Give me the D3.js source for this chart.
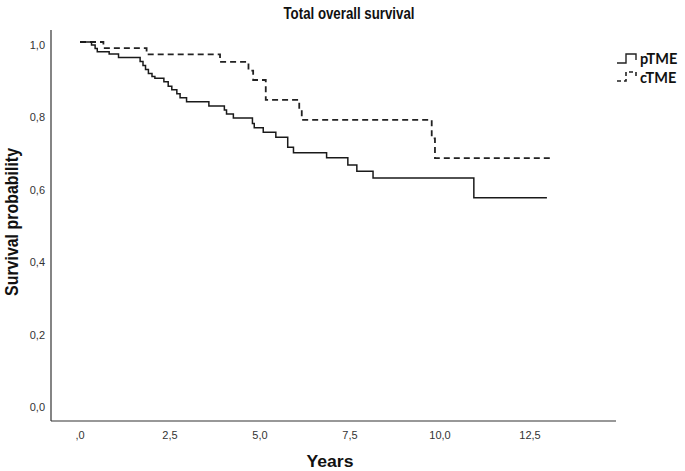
<!DOCTYPE html>
<html>
<head>
<meta charset="utf-8">
<script src="https://cdn.jsdelivr.net/npm/d3@7"></script>
<style>
  body { margin: 0; background: #fff; }
  svg { display: block; }
  .tick-label { font-family: "Liberation Sans Narrow", "Liberation Sans", Arial, sans-serif; font-size: 11px; fill: #333; }
  .bold { font-family: "Liberation Sans Narrow", "Liberation Sans", Arial, sans-serif; font-weight: bold; fill: #111; }
  .legend { font-family: Lato, "Open Sans", sans-serif; font-weight: bold; font-size: 14.5px; fill: #111; }
</style>
</head>
<body>
<script>
// ---- Data ----
const title = "Total overall survival";
const xLabel = "Years";
const yLabel = "Survival probability";
const seriesNames = ["pTME", "cTME"];

const pTimes = [0, 0.32, 0.42, 0.48, 0.81, 1.07, 1.67, 1.75, 1.82, 1.9, 2.0, 2.08, 2.33, 2.45, 2.55, 2.69, 2.78, 2.96, 3.58, 4.01, 4.07, 4.26, 4.79, 4.84, 5.09, 5.44, 5.77, 5.93, 6.85, 7.44, 7.69, 8.14, 10.94, 12.97];
const pSurv  = [1.0, 0.992, 0.982, 0.973, 0.967, 0.957, 0.946, 0.935, 0.924, 0.913, 0.905, 0.90, 0.89, 0.878, 0.868, 0.857, 0.846, 0.835, 0.823, 0.812, 0.801, 0.79, 0.775, 0.763, 0.751, 0.737, 0.709, 0.694, 0.680, 0.660, 0.643, 0.624, 0.570, 0.570];

const cTimes = [0, 0.65, 1.85, 3.89, 4.68, 4.81, 5.16, 6.09, 6.16, 9.77, 9.86, 13.06];
const cSurv  = [1.0, 0.983, 0.966, 0.945, 0.921, 0.895, 0.840, 0.812, 0.785, 0.734, 0.679, 0.679];

const xTicks = [0, 2.5, 5, 7.5, 10, 12.5];
const xTickLabels = [",0", "2,5", "5,0", "7,5", "10,0", "12,5"];
const yTicks = [0, 0.2, 0.4, 0.6, 0.8, 1.0];
const yTickLabels = ["0,0", "0,2", "0,4", "0,6", "0,8", "1,0"];

// ---- Layout ----
const W = 685, H = 471;
const svg = d3.select("body").append("svg").attr("width", W).attr("height", H);

const x = d3.scaleLinear().domain([0, 12.5]).range([80, 530]);
const y = d3.scaleLinear().domain([0, 1]).range([404, 42]);

const axisLeft = 51, axisRight = 616, axisTop = 30, axisBottom = 421;

// axes lines
svg.append("line").attr("x1", axisLeft).attr("x2", axisLeft).attr("y1", axisTop).attr("y2", axisBottom)
  .attr("stroke", "#333").attr("stroke-width", 1.2);
svg.append("line").attr("x1", axisLeft).attr("x2", axisRight).attr("y1", axisBottom).attr("y2", axisBottom)
  .attr("stroke", "#333").attr("stroke-width", 1.2);

// tick labels
svg.selectAll(".ylab").data(yTicks).enter().append("text")
  .attr("class", "tick-label").attr("x", 45).attr("y", d => y(d) + 3)
  .attr("text-anchor", "end").attr("dominant-baseline", "central")
  .text((d, i) => yTickLabels[i]);

svg.selectAll(".xlab").data(xTicks).enter().append("text")
  .attr("class", "tick-label").attr("x", d => x(d)).attr("y", 435)
  .attr("text-anchor", "middle").attr("dominant-baseline", "central")
  .text((d, i) => xTickLabels[i]);

// titles
svg.append("text").attr("class", "bold").attr("x", 349).attr("y", 13)
  .attr("text-anchor", "middle").attr("dominant-baseline", "central")
  .attr("textLength", 131).attr("lengthAdjust", "spacingAndGlyphs")
  .style("font-size", "16px").text(title);
svg.append("text").attr("class", "bold").attr("x", 330).attr("y", 461)
  .attr("text-anchor", "middle").attr("dominant-baseline", "central")
  .attr("textLength", 47).attr("lengthAdjust", "spacingAndGlyphs")
  .style("font-size", "16.5px").text(xLabel);
svg.append("text").attr("class", "bold")
  .attr("transform", "translate(12,222) rotate(-90)")
  .attr("text-anchor", "middle").attr("dominant-baseline", "central")
  .attr("textLength", 148).attr("lengthAdjust", "spacingAndGlyphs")
  .style("font-size", "18px").text(yLabel);

// curves
const line = d3.line().x(d => x(d[0])).y(d => y(d[1])).curve(d3.curveStepAfter);
const pData = pTimes.map((t, i) => [t, pSurv[i]]);
const cData = cTimes.map((t, i) => [t, cSurv[i]]);

svg.append("path").datum(cData).attr("d", line)
  .attr("fill", "none").attr("stroke", "#222").attr("stroke-width", 1.8)
  .attr("stroke-dasharray", "6,4");
svg.append("path").datum(pData).attr("d", line)
  .attr("fill", "none").attr("stroke", "#1a1a1a").attr("stroke-width", 1.5);

// legend
const lg = svg.append("g");
lg.append("path").attr("d", "M617,63 H626 V54 H636 V60")
  .attr("fill", "none").attr("stroke", "#222").attr("stroke-width", 1.4);
lg.append("path").attr("d", "M617,81 H626 V72 H636 V78")
  .attr("fill", "none").attr("stroke", "#222").attr("stroke-width", 1.6).attr("stroke-dasharray", "4,3");
lg.append("text").attr("class", "legend").attr("x", 640).attr("y", 58)
  .attr("dominant-baseline", "central").text(seriesNames[0]);
lg.append("text").attr("class", "legend").attr("x", 640).attr("y", 77)
  .attr("dominant-baseline", "central").text(seriesNames[1]);
</script>
</body>
</html>
